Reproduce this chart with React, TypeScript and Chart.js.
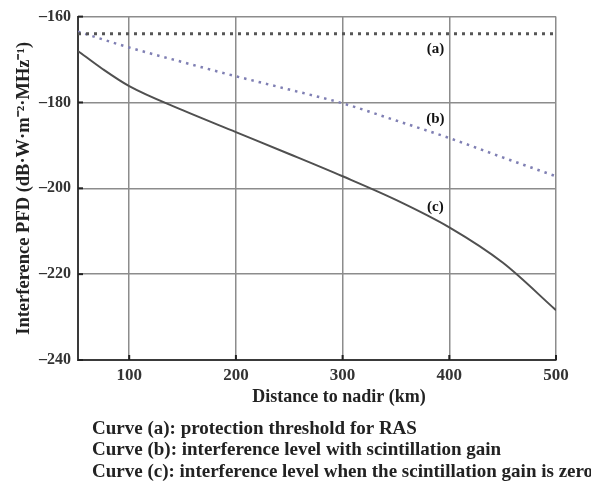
import { useEffect, useRef } from "react";
import { Chart, registerables } from "chart.js";

Chart.register(...registerables);

// ---- data ----
const distanceA = [52, 500];
const curveA = [-164, -164];

const distanceB = [52, 100, 150, 200, 250, 300, 350, 400, 450, 500];
const curveB = [-163.5, -167.2, -170.6, -173.9, -177.0, -180.2, -184.2, -188.3, -192.8, -197.2];

const distanceC = [52, 75, 100, 150, 200, 250, 300, 350, 400, 450, 500];
const curveC = [-168.0, -172.2, -176.2, -181.8, -186.9, -192.0, -197.2, -202.7, -209.1, -217.3, -228.4];

const xTicks = [100, 200, 300, 400, 500];
const yTicks = [-160, -180, -200, -220, -240];

const curveLabels = ["(a)", "(b)", "(c)"];
const curveLabelX = [387, 387, 387];
const curveLabelY = [-167.6, -184.0, -204.5];

const xTitle = "Distance to nadir (km)";
const yTitle = "Interference PFD (dB·W·m⁻²·MHz⁻¹)";
const captions = [
  "Curve (a): protection threshold for RAS",
  "Curve (b): interference level with scintillation gain",
  "Curve (c): interference level when the scintillation gain is zero",
];

const FONT = "'Liberation Serif', 'Times New Roman', serif";

export default function App() {
  const ref = useRef<HTMLCanvasElement | null>(null);

  useEffect(() => {
    const canvas = ref.current;
    if (!canvas) return;

    const textPlugin = {
      id: "textPlugin",
      afterDraw(chart: any) {
        const ctx = chart.ctx as CanvasRenderingContext2D;
        const area = chart.chartArea;
        const xs = chart.scales.x;
        const ys = chart.scales.y;
        ctx.save();
        // small inner tick marks
        ctx.strokeStyle = "#222";
        ctx.lineWidth = 2;
        xTicks.forEach((t) => {
          const px = xs.getPixelForValue(t);
          ctx.beginPath();
          ctx.moveTo(px, area.bottom);
          ctx.lineTo(px, area.bottom - 5);
          ctx.stroke();
        });
        yTicks.forEach((t) => {
          const py = ys.getPixelForValue(t);
          ctx.beginPath();
          ctx.moveTo(area.left, py);
          ctx.lineTo(area.left + 5, py);
          ctx.stroke();
        });
        // curve labels
        ctx.fillStyle = "#111";
        ctx.font = `bold 15px ${FONT}`;
        ctx.textAlign = "center";
        ctx.textBaseline = "middle";
        curveLabels.forEach((l, i) => {
          ctx.fillText(l, xs.getPixelForValue(curveLabelX[i]), ys.getPixelForValue(curveLabelY[i]));
        });
        // x title
        ctx.fillStyle = "#222";
        ctx.font = `bold 18px ${FONT}`;
        ctx.fillText(xTitle, 339, 397);
        // y title
        ctx.save();
        ctx.translate(24, (area.top + area.bottom) / 2);
        ctx.rotate(-Math.PI / 2);
        ctx.font = `bold 18.5px ${FONT}`;
        ctx.fillText(yTitle, 0, 0);
        ctx.restore();
        // captions
        ctx.textAlign = "left";
        ctx.font = `bold 19px ${FONT}`;
        ctx.fillStyle = "#222";
        captions.forEach((c, i) => {
          ctx.fillText(c, 92, 429 + i * 21.5);
        });
        ctx.restore();
      },
    };

    const chart = new Chart(canvas, {
      type: "line",
      data: {
        datasets: [
          {
            label: "a",
            data: distanceA.map((x, i) => ({ x, y: curveA[i] })),
            borderColor: "#555555",
            borderWidth: 3,
            borderDash: [3, 5],
            pointRadius: 0,
            fill: false,
          },
          {
            label: "b",
            data: distanceB.map((x, i) => ({ x, y: curveB[i] })),
            borderColor: "#7f7fb3",
            borderWidth: 2.5,
            borderDash: [2.5, 5],
            pointRadius: 0,
            cubicInterpolationMode: "monotone",
            fill: false,
          },
          {
            label: "c",
            data: distanceC.map((x, i) => ({ x, y: curveC[i] })),
            borderColor: "#505050",
            borderWidth: 2,
            pointRadius: 0,
            cubicInterpolationMode: "monotone",
            fill: false,
          },
        ],
      },
      options: {
        responsive: false,
        animation: false,
        layout: { padding: { top: 15, right: 35, left: 0, bottom: 0 } },
        plugins: {
          legend: { display: false },
          tooltip: { enabled: false },
        },
        scales: {
          x: {
            type: "linear",
            min: 52,
            max: 500,
            afterBuildTicks: (s: any) => {
              s.ticks = xTicks.map((v) => ({ value: v }));
            },
            afterFit: (s: any) => {
              s.height = 122;
            },
            grid: { color: "#8c8c8c", lineWidth: 1.5, drawTicks: false },
            border: { color: "#3a3a3a", width: 2 },
            ticks: {
              padding: 5,
              color: "#333",
              font: { family: FONT, size: 17, weight: "bold" },
              maxRotation: 0,
            },
          },
          y: {
            type: "linear",
            min: -240,
            max: -160,
            afterBuildTicks: (s: any) => {
              s.ticks = yTicks.map((v) => ({ value: v }));
            },
            afterFit: (s: any) => {
              s.width = 78;
            },
            grid: { color: "#8c8c8c", lineWidth: 1.5, drawTicks: false },
            border: { color: "#3a3a3a", width: 2 },
            ticks: {
              padding: 7,
              color: "#333",
              font: { family: FONT, size: 16, weight: "bold" },
              callback: (v: any) => String(v).replace("-", "–"),
            },
          },
        },
      },
      plugins: [textPlugin],
    } as any);

    return () => chart.destroy();
  }, []);

  return (
    <div style={{ position: "absolute", left: 0, top: 0, width: 591, height: 482, background: "#fff" }}>
      <canvas ref={ref} width={591} height={482} style={{ width: 591, height: 482 }} />
    </div>
  );
}
